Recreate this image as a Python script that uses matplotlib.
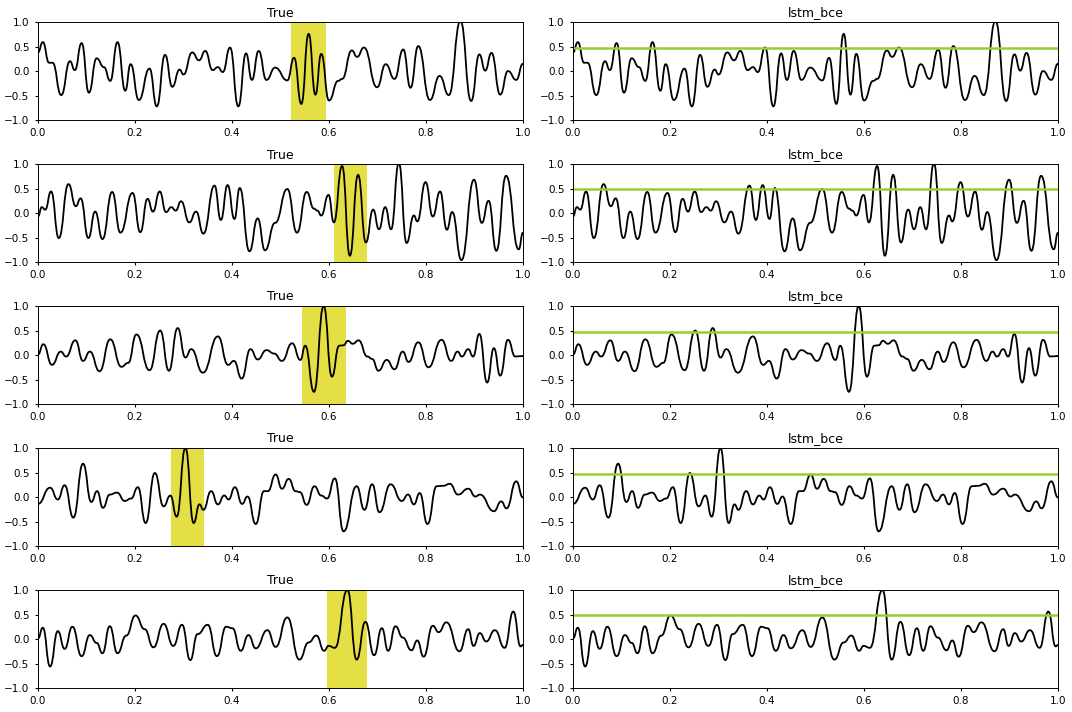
import numpy as np
import matplotlib
matplotlib.use('Agg')
import matplotlib.pyplot as plt
from matplotlib.path import Path
from matplotlib.patches import PathPatch

# extrema of each signal (x in [0, 1], y in [-1, 1])
sig1_x = [0.0, 0.010, 0.023, 0.030, 0.048, 0.066, 0.076, 0.090, 0.105, 0.121, 0.136, 0.149,
          0.164, 0.180, 0.191, 0.208, 0.230, 0.245, 0.262, 0.277, 0.292, 0.300, 0.318, 0.332,
          0.345, 0.360, 0.371, 0.381, 0.396, 0.413, 0.429, 0.441, 0.455, 0.471, 0.489, 0.514,
          0.528, 0.543, 0.558, 0.572, 0.584, 0.600, 0.619, 0.627, 0.647, 0.658, 0.672, 0.699,
          0.717, 0.735, 0.753, 0.768, 0.784, 0.808, 0.828, 0.847, 0.871, 0.893, 0.910, 0.922,
          0.935, 0.953, 0.969, 0.986, 1.0]
sig1_y = [0.38, 0.59, 0.17, 0.17, -0.49, 0.20, 0.02, 0.57, -0.44, 0.26, 0.08, -0.20,
          0.59, -0.40, 0.14, -0.59, 0.05, -0.72, 0.33, -0.32, 0.03, -0.07, 0.38, 0.22,
          0.41, 0.02, 0.08, -0.02, 0.48, -0.72, 0.36, -0.18, 0.41, -0.18, 0.07, -0.19,
          0.27, -0.67, 0.76, -0.48, 0.35, -0.60, -0.20, -0.16, 0.42, 0.29, 0.48, -0.33,
          0.14, -0.16, 0.44, -0.34, 0.51, -0.59, -0.10, -0.49, 1.02, -0.61, 0.34, 0.01,
          0.37, -0.48, 0.0, -0.18, 0.15]

sig2_x = [0.0, 0.008, 0.015, 0.027, 0.043, 0.063, 0.078, 0.088, 0.104, 0.118, 0.133, 0.153,
          0.170, 0.195, 0.211, 0.226, 0.237, 0.251, 0.264, 0.275, 0.284, 0.295, 0.312, 0.326,
          0.341, 0.364, 0.377, 0.391, 0.405, 0.416, 0.436, 0.453, 0.468, 0.489, 0.514, 0.534,
          0.554, 0.569, 0.576, 0.584, 0.599, 0.610, 0.627, 0.643, 0.660, 0.676, 0.691, 0.703,
          0.716, 0.728, 0.744, 0.760, 0.775, 0.782, 0.799, 0.814, 0.829, 0.843, 0.854, 0.873,
          0.899, 0.915, 0.929, 0.945, 0.965, 0.991, 1.0]
sig2_y = [-0.07, 0.12, 0.07, 0.44, -0.51, 0.59, 0.14, 0.30, -0.51, 0.03, -0.53, 0.43,
          -0.40, 0.41, -0.39, 0.29, 0.03, 0.44, 0.02, 0.12, 0.05, 0.24, -0.19, 0.03,
          -0.42, 0.56, -0.14, 0.57, -0.12, 0.51, -0.78, -0.11, -0.76, -0.20, 0.49, -0.40,
          0.43, 0.09, 0.05, -0.05, 0.37, -0.19, 0.96, -0.87, 0.78, -0.60, 0.07, -0.33,
          0.12, -0.33, 1.02, -0.61, -0.05, -0.17, 0.63, -0.07, 0.44, -0.34, 0.02, -0.96,
          0.68, -0.20, 0.25, -0.77, 0.76, -0.74, -0.40]

sig3_x = [0.0, 0.011, 0.029, 0.047, 0.058, 0.077, 0.093, 0.107, 0.127, 0.149, 0.172, 0.186,
          0.203, 0.230, 0.252, 0.270, 0.288, 0.304, 0.316, 0.340, 0.371, 0.392, 0.404, 0.420,
          0.438, 0.453, 0.471, 0.487, 0.503, 0.524, 0.541, 0.551, 0.569, 0.589, 0.606, 0.621,
          0.630, 0.639, 0.649, 0.661, 0.679, 0.689, 0.702, 0.719, 0.735, 0.752, 0.764, 0.784,
          0.805, 0.832, 0.852, 0.865, 0.874, 0.887, 0.897, 0.910, 0.926, 0.940, 0.953, 0.969,
          0.984, 1.0]
sig3_y = [0.01, 0.22, -0.20, 0.07, -0.03, 0.30, -0.12, 0.07, -0.33, 0.32, -0.24, -0.16,
          0.42, -0.31, 0.50, -0.32, 0.55, -0.05, 0.12, -0.36, 0.38, -0.20, -0.12, -0.48,
          0.12, -0.09, 0.10, 0.03, -0.12, 0.24, -0.10, 0.19, -0.75, 1.0, -0.44, 0.19,
          0.20, 0.29, 0.23, 0.30, -0.03, -0.08, -0.32, -0.10, -0.29, 0.07, -0.14, 0.26,
          -0.25, 0.31, -0.12, 0.07, -0.03, 0.12, -0.03, 0.43, -0.56, 0.14, -0.42, 0.31,
          -0.03, -0.02]

sig4_x = [0.0, 0.025, 0.041, 0.055, 0.073, 0.093, 0.110, 0.122, 0.134, 0.148, 0.163, 0.179,
          0.192, 0.206, 0.222, 0.241, 0.259, 0.273, 0.286, 0.304, 0.321, 0.333, 0.341, 0.357,
          0.371, 0.384, 0.393, 0.406, 0.421, 0.432, 0.449, 0.466, 0.474, 0.490, 0.503, 0.517,
          0.531, 0.540, 0.554, 0.570, 0.584, 0.596, 0.612, 0.630, 0.657, 0.673, 0.689, 0.704,
          0.727, 0.750, 0.763, 0.775, 0.787, 0.803, 0.822, 0.836, 0.849, 0.866, 0.887, 0.902,
          0.911, 0.940, 0.955, 0.966, 0.986, 1.0]
sig4_y = [-0.14, 0.19, -0.05, 0.24, -0.42, 0.68, -0.10, 0.12, -0.22, 0.05, 0.09, -0.08,
          -0.03, 0.20, -0.53, 0.49, -0.19, 0.03, -0.40, 1.0, -0.53, -0.15, -0.26, 0.12,
          -0.15, 0.03, -0.05, 0.20, -0.14, 0.01, -0.55, 0.12, 0.12, 0.46, 0.17, 0.37,
          0.12, 0.10, -0.16, 0.22, 0.03, -0.03, 0.38, -0.70, 0.22, -0.26, 0.26, -0.31,
          0.26, -0.08, 0.05, -0.15, 0.08, -0.55, 0.22, 0.23, 0.27, 0.05, 0.17, 0.01,
          0.05, -0.29, -0.09, -0.23, 0.32, -0.01]

sig5_x = [0.0, 0.010, 0.025, 0.041, 0.055, 0.071, 0.090, 0.107, 0.121, 0.133, 0.148, 0.164,
          0.182, 0.201, 0.220, 0.238, 0.259, 0.279, 0.297, 0.314, 0.329, 0.350, 0.369, 0.388,
          0.401, 0.418, 0.434, 0.449, 0.473, 0.490, 0.514, 0.539, 0.558, 0.574, 0.590, 0.599,
          0.612, 0.638, 0.657, 0.675, 0.693, 0.709, 0.722, 0.737, 0.752, 0.770, 0.782, 0.795,
          0.814, 0.826, 0.842, 0.869, 0.887, 0.898, 0.911, 0.924, 0.942, 0.962, 0.980, 0.995,
          1.0]
sig5_y = [0.01, 0.23, -0.56, 0.16, -0.20, 0.25, -0.35, 0.08, -0.08, -0.29, 0.26, -0.29,
          0.07, 0.48, 0.20, -0.17, 0.31, -0.14, 0.29, -0.43, 0.10, 0.29, -0.35, 0.25,
          0.22, -0.24, 0.08, -0.19, 0.18, -0.16, 0.44, -0.42, -0.07, 0.07, -0.24, -0.14,
          -0.18, 1.0, -0.42, 0.35, -0.33, 0.22, -0.24, 0.26, 0.03, -0.23, -0.03, -0.36,
          0.27, 0.14, 0.34, -0.25, 0.20, -0.14, 0.12, -0.05, 0.18, -0.18, 0.56, -0.15,
          -0.12]

signals_x = [sig1_x, sig2_x, sig3_x, sig4_x, sig5_x]
signals_y = [sig1_y, sig2_y, sig3_y, sig4_y, sig5_y]

# true anomaly windows (start, end)
true_start = [0.521, 0.610, 0.545, 0.275, 0.596]
true_end = [0.593, 0.679, 0.636, 0.342, 0.679]

# lstm_bce prediction level
lstm_bce = [0.48, 0.49, 0.48, 0.48, 0.48]

titles = ['True', 'lstm_bce']
yticks = [-1.0, -0.5, 0.0, 0.5, 1.0]
xticks = [0.0, 0.2, 0.4, 0.6, 0.8, 1.0]


def smooth_path(x, y):
    # cubic segments with flat tangents at each extremum
    verts = [(x[0], y[0])]
    codes = [Path.MOVETO]
    for i in range(1, len(x)):
        d = (x[i] - x[i - 1]) / 2.0
        verts += [(x[i - 1] + d, y[i - 1]), (x[i] - d, y[i]), (x[i], y[i])]
        codes += [Path.CURVE4] * 3
    return Path(verts, codes)


plt.rcParams['xtick.labelsize'] = 7.5
plt.rcParams['ytick.labelsize'] = 7.5
plt.rcParams['xtick.major.size'] = 2.5
plt.rcParams['ytick.major.size'] = 2.5
plt.rcParams['axes.linewidth'] = 0.7

fig, axes = plt.subplots(5, 2, figsize=(10.72, 7.12), dpi=100)
plt.subplots_adjust(left=0.0354, right=0.987, top=0.969, bottom=0.0337,
                    wspace=0.103, hspace=0.449)

for r in range(5):
    for c in range(2):
        ax = axes[r, c]
        if c == 0:
            ax.axvspan(true_start[r], true_end[r], color='#e4df44', lw=0)
        else:
            ax.plot([0, 1], [lstm_bce[r], lstm_bce[r]], color='#9acd32', lw=1.8)
        ax.add_patch(PathPatch(smooth_path(signals_x[r], signals_y[r]),
                               fill=False, edgecolor='black', lw=1.3))
        ax.set_xlim(0, 1)
        ax.set_ylim(-1, 1)
        ax.set_xticks(xticks)
        ax.set_yticks(yticks)
        ax.set_title(titles[c], fontsize=9, pad=4)

plt.savefig('out.png', dpi=100)
